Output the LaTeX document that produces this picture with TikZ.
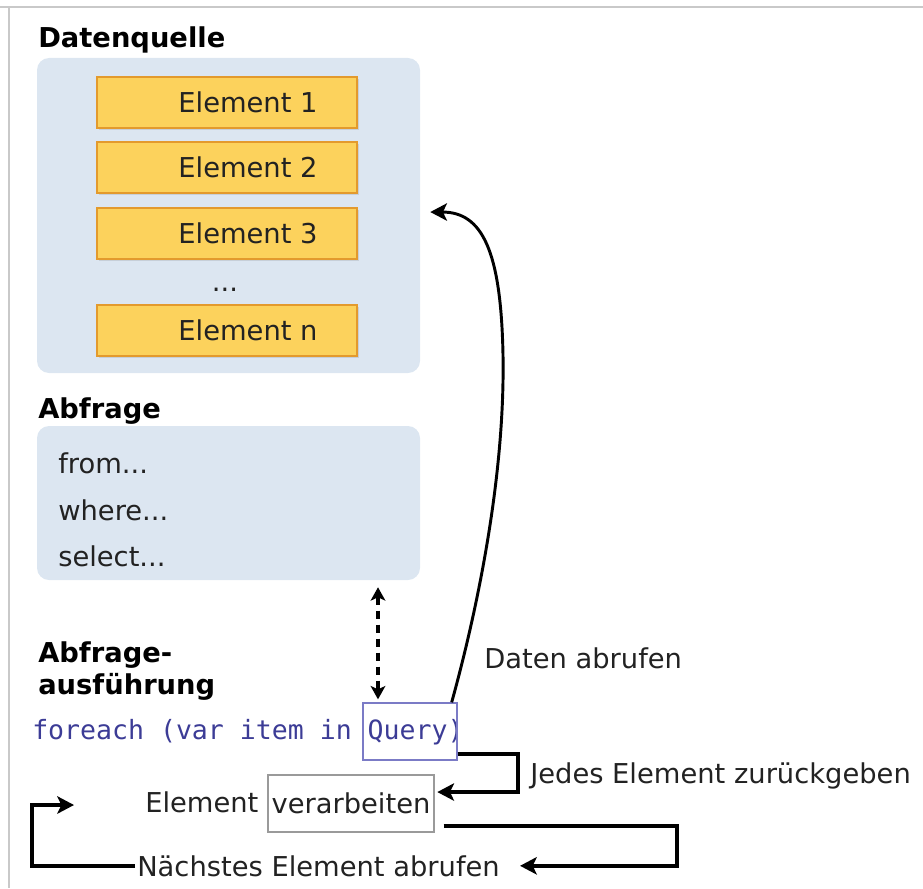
\documentclass[tikz,border=0pt]{standalone}
\usepackage{fontspec}
\setmainfont{DejaVu Sans}
\setmonofont{DejaVu Sans Mono}
\usetikzlibrary{arrows.meta,shadows,calc}

\definecolor{groupfill}{HTML}{DCE6F1}
\definecolor{itemfill}{HTML}{FCD25C}
\definecolor{itemline}{HTML}{E39A2D}
\definecolor{codeblue}{HTML}{3C3C96}
\definecolor{querybox}{HTML}{7B7BC6}
\definecolor{procbox}{HTML}{9A9A9A}
\definecolor{framegray}{HTML}{C9C9C9}
\definecolor{ink}{HTML}{222222}

\begin{document}
\begin{tikzpicture}[x=0.75pt,y=-0.75pt,
  every node/.style={font=\fontsize{20.5}{24}\selectfont, text=ink},
  heading/.style={font=\fontsize{20.5}{24}\selectfont\bfseries, text=black, anchor=base west, inner sep=0pt},
  plain/.style={anchor=base west, inner sep=0pt},
  group/.style={fill=groupfill, rounded corners=9pt, minimum width=287.25pt, inner sep=0pt},
  item/.style={fill=itemfill, draw=itemline, line width=1.2pt, minimum width=195pt,
    minimum height=38.25pt, inner sep=0pt,
    drop shadow={opacity=0.22, shadow xshift=1.5pt, shadow yshift=-1.5pt}},
  tip/.style={-{Stealth[length=12.5pt,width=13pt,inset=3pt]}},
  flow/.style={draw=black, line width=3pt, tip},
  fetch/.style={draw=black, line width=2.2pt, tip},
  link/.style={draw=black, line width=2.6pt, dash pattern=on 6pt off 4.5pt,
    {Stealth[length=10pt,width=11pt,inset=2.5pt]}-{Stealth[length=10pt,width=11pt,inset=2.5pt]}}
]
\useasboundingbox (0,0) rectangle (923,888);

% page frame (top and left edge)
\draw[framegray, line width=1.5pt] (0,7) -- (923,7);
\draw[framegray, line width=1.5pt] (9,7) -- (9,888);

% data source
\node[heading] (srcT) at (38,48) {Datenquelle};
\node[group, minimum height=236.25pt] (src) at (228.5,215.5) {};
\node[item, label={[xshift=15.75pt]center:Element 1}] (e1) at (227,102.5) {};
\node[item, label={[xshift=15.75pt]center:Element 2}] (e2) at (227,167.5) {};
\node[item, label={[xshift=15.75pt]center:Element 3}] (e3) at (227,233.5) {};
\node[inner sep=0pt, anchor=base] (dots) at (225,291) {...};
\node[item, label={[xshift=15.75pt]center:Element n}] (en) at (227,330.5) {};

% query
\node[heading] (qryT) at (38,418) {Abfrage};
\node[group, minimum height=115.5pt] (qry) at (228.5,503) {};
\node[plain] (qFrom) at (58,473) {from...};
\node[plain] (qWhere) at (58,520) {where...};
\node[plain] (qSel) at (58,566) {select...};

% query execution
\node[heading] (runT1) at (38,662) {Abfrage-};
\node[heading] (runT2) at (38,694) {ausführung};
\node[plain, font=\fontsize{19.9}{24}\selectfont\ttfamily, text=codeblue] (loop) at (32,739)
  {foreach (var item in Query)};
\node[draw=querybox, line width=1pt, minimum width=70.5pt, minimum height=42.75pt, inner sep=0pt]
  (query) at (410,731.5) {};

\node[plain] (elem) at (145,812) {Element};
\node[draw=procbox, line width=1pt, minimum width=124.5pt, minimum height=42.75pt, inner sep=0pt]
  (proc) at (351,803.5) {verarbeiten};

\node[plain] (fetchL) at (484,668) {Daten abrufen};
\node[plain] (retL) at (530,783) {Jedes Element zurückgeben};
\node[plain] (nextL) at (137,876) {Nächstes Element abrufen};
\coordinate (restart) at (74,805);

% connectors
\draw[link] ($(qry.south)+(149.5,7)$) -- ($(query.north)+(-32,-3)$);
\draw[fetch] ([xshift=-4.5pt]query.north east)
  .. controls (480,600) and (505,470) .. (503,355)
  .. controls (501,250) and (482,212) .. ([xshift=7.5pt,yshift=2.6pt]src.east);
\draw[flow] ([yshift=5.25pt]query.south east) -- ++(60,0) |- ([xshift=2pt,yshift=8.6pt]proc.east);
\draw[flow, shorten >=15pt] ([xshift=6.75pt,yshift=-16.5pt]proc.east) -- ++(233,0) |- (nextL.east);
\draw[flow] ([xshift=-1.5pt]nextL.west) -- ++(-103,0) |- (restart);
\end{tikzpicture}
\end{document}
